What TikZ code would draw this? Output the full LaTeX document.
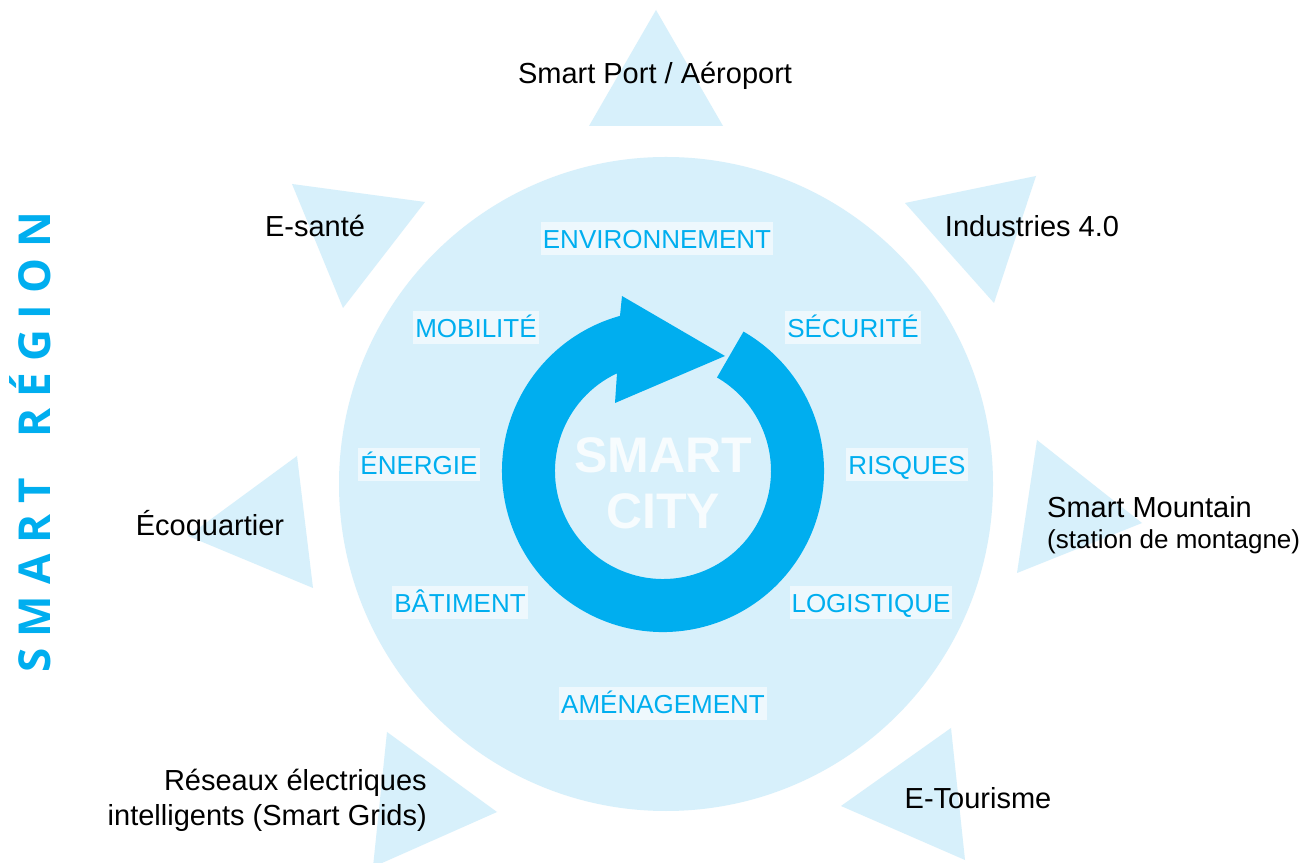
\documentclass[tikz,border=0pt]{standalone}
\usepackage{fontspec}
\setmainfont{Liberation Sans}
\newfontfamily\regfont{Open Sans}
\definecolor{pale}{RGB}{215,240,251}
\definecolor{ringblue}{RGB}{0,174,239}
\definecolor{labbg}{RGB}{238,248,253}
\begin{document}
\begin{tikzpicture}[x=1pt,y=1pt,
  tri/.style={fill=pale},
  outer/.style={font=\fontsize{29}{35}\selectfont, text=black, inner sep=0pt},
  theme/.style={font=\fontsize{26}{30}\selectfont, text=ringblue, fill=labbg,
    inner xsep=2pt, inner ysep=4pt, text height=23pt, text depth=2pt, anchor=base},
]
\useasboundingbox (0,0) rectangle (1306,862);
\fill[white] (0,0) rectangle (1306,862);
\begin{scope}
\clip (0,0) rectangle (1306,862);
% outer triangles
\fill[tri] (656,852) -- (589,736) -- (723,736) -- cycle;
\fill[tri] (905,659) -- (1036,686) -- (994,559) -- cycle;
\fill[tri] (292,678) -- (425,660) -- (343,554) -- cycle;
\fill[tri] (1037,422) -- (1142,339) -- (1017,289) -- cycle;
\fill[tri] (951,134) -- (841,56) -- (965,2) -- cycle;
\fill[tri] (387,130) -- (497,50) -- (373,-5) -- cycle;
\fill[tri] (297,406) -- (313,274) -- (188,326) -- cycle;
\end{scope}
% big circle
\fill[pale] (666,378) circle[radius=327pt];
% ring arrow
\fill[ringblue] (743.5,530.4) arc[start angle=60, end angle=-254.5, radius=161pt]
  -- (622,566) -- (725,506) -- (615,459) -- (617,488.7)
  arc[start angle=-244.8, end angle=60, radius=108pt] -- cycle;
% centre text
\node[inner sep=0pt, align=center, text=white!80!pale,
  font=\fontsize{50}{56}\selectfont\bfseries] (city) at (663,379) {SMART\\CITY};
% themes
\node[theme] (env) at (657,613) {ENVIRONNEMENT};
\node[theme] (mob) at (476,524) {MOBILITÉ};
\node[theme] (sec) at (853,524) {SÉCURITÉ};
\node[theme] (ene) at (419,387) {ÉNERGIE};
\node[theme] (ris) at (907,387) {RISQUES};
\node[theme] (bat) at (460,249) {BÂTIMENT};
\node[theme] (log) at (871,249) {LOGISTIQUE};
\node[theme] (ame) at (663,148) {AMÉNAGEMENT};
% outer labels
\node[outer, anchor=base] (port) at (655,778) {Smart Port / Aéroport};
\node[outer, anchor=base] (sante) at (315,625) {E-santé};
\node[outer, anchor=base] (indus) at (1032,625) {Industries 4.0};
\node[outer, anchor=base] (eco) at (210,326) {Écoquartier};
\node[outer, anchor=west, align=left, font=\fontsize{29}{31}\selectfont] (mount) at (1047,337)
  {Smart Mountain\\{\fontsize{26}{31}\selectfont (station de montagne)}};
\node[outer, anchor=east, align=right] (grid) at (427,62)
  {Réseaux électriques\\intelligents (Smart Grids)};
\node[outer, anchor=base] (tour) at (978,53) {E-Tourisme};
% vertical title
\node[rotate=90, inner sep=0pt, text=ringblue, text height=31.5pt, text depth=0pt,
  font=\regfont\fontsize{44}{44}\selectfont\bfseries] (region) at (35,420)
  {S\kern11pt M\kern11pt A\kern11pt R\kern11pt T\kern40pt R\kern11pt É\kern11pt G\kern11pt I\kern11pt O\kern11pt N};
\end{tikzpicture}
\end{document}
